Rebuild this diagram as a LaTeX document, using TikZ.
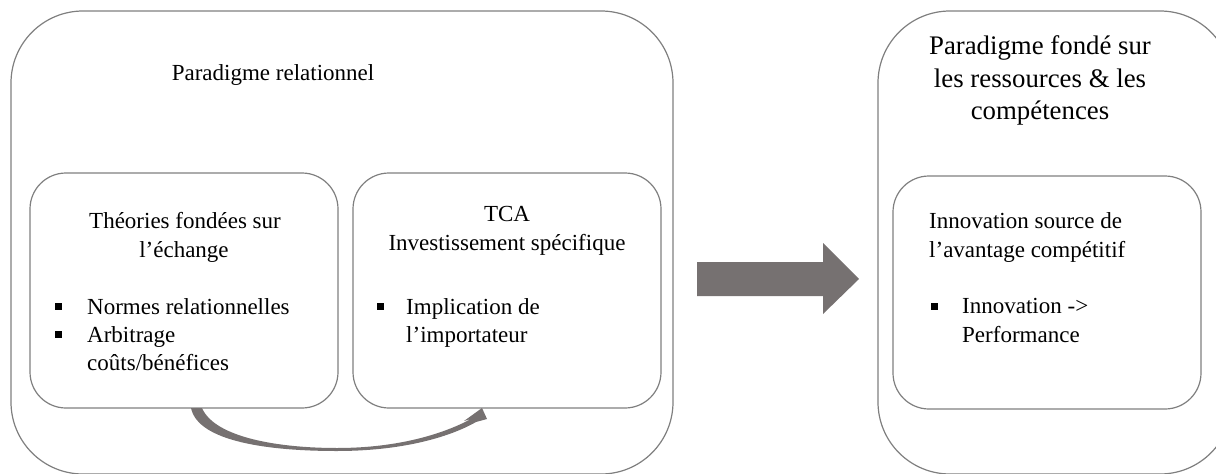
\documentclass[tikz,border=0pt]{standalone}
\usepackage{fontspec}
\setmainfont{Liberation Serif}
\definecolor{boxline}{HTML}{7F7F7F}
\definecolor{arrowfill}{HTML}{767171}
\newcommand\innerfont{\fontsize{23}{28}\selectfont}
\newcommand\titlefont{\fontsize{23}{28}\selectfont}
\newcommand\rtitlefont{\fontsize{26.8}{32}\selectfont}
\tikzset{
  outerbox/.style={draw=boxline, line width=1.2pt, rounded corners=72pt, inner sep=0pt, outer sep=0pt},
  innerbox/.style={draw=boxline, line width=1.2pt, rounded corners=36pt, inner sep=0pt, outer sep=0pt},
  txt/.style={inner sep=0pt, anchor=base, font=\innerfont},
  txtl/.style={inner sep=0pt, anchor=base west, font=\innerfont},
  bulletbox/.style={fill=black, inner sep=0pt, minimum size=7pt, anchor=south west},
  arrowshape/.style={fill=arrowfill, draw=none}
}
\begin{document}
\begin{tikzpicture}[x=1pt,y=-1pt]
\useasboundingbox (0,0) rectangle (1216,474);
\clip (0,0) rectangle (1216,474);
% outer boxes
\node[outerbox, minimum width=662pt, minimum height=463pt, anchor=north west] (relbox) at (11,11) {};
\node[outerbox, minimum width=354pt, minimum height=463pt, anchor=north west] (resbox) at (878,11) {};
% inner boxes
\node[innerbox, minimum width=308pt, minimum height=235pt, anchor=north west] (exch) at (30,173) {};
\node[innerbox, minimum width=308pt, minimum height=235pt, anchor=north west] (tca) at (353,173) {};
\node[innerbox, minimum width=308pt, minimum height=233pt, anchor=north west] (innov) at (893,176) {};
% titles
\node[txt, font=\titlefont] (reltitle) at (273,80) {Paradigme relationnel};
\node[txt, font=\rtitlefont] (rest1) at (1040,54) {Paradigme fondé sur};
\node[txt, font=\rtitlefont] (rest2) at (1040,87) {les ressources \& les};
\node[txt, font=\rtitlefont] (rest3) at (1040,119) {compétences};
% left inner text
\node[txt] (ex1) at (185,228) {Théories fondées sur};
\node[txt] (ex2) at (184,257) {l’échange};
\node[bulletbox] (exb1) at (55,310) {};
\node[txtl] (ex3) at (87,314) {Normes relationnelles};
\node[bulletbox] (exb2) at (55,338) {};
\node[txtl] (ex4) at (87,342) {Arbitrage};
\node[txtl] (ex5) at (87,370) {coûts/bénéfices};
% middle inner text
\node[txt] (tc1) at (507,221) {TCA};
\node[txt] (tc2) at (507,250) {Investissement spécifique};
\node[bulletbox] (tcb1) at (377,310) {};
\node[txtl] (tc3) at (406,314) {Implication de};
\node[txtl] (tc4) at (406,342) {l’importateur};
% right inner text
\node[txtl] (in1) at (929,228) {Innovation source de};
\node[txtl] (in2) at (929,257) {l’avantage compétitif};
\node[bulletbox] (inb1) at (931,310) {};
\node[txtl] (in3) at (962,313) {Innovation ->};
\node[txtl] (in4) at (962,342) {Performance};
% big arrow
\fill[arrowshape] (697,262) -- (823,262) -- (823,243) -- (859,279) -- (823,314) -- (823,296) -- (697,296) -- cycle;
% curved arrow from exch to tca
\coordinate (cstart) at (191,408);
\coordinate (ctip) at (482,408);
\fill[arrowshape] (cstart) -- (202,408)
  .. controls (215,438) and (280,448) .. (337,448)
  .. controls (400,448) and (445,433) .. (471,419)
  -- (464,421) -- (ctip) -- (487,419) -- (476,422)
  .. controls (448,438) and (400,451) .. (337,451)
  .. controls (270,451) and (198,442) .. (cstart) -- cycle;
\end{tikzpicture}
\end{document}
